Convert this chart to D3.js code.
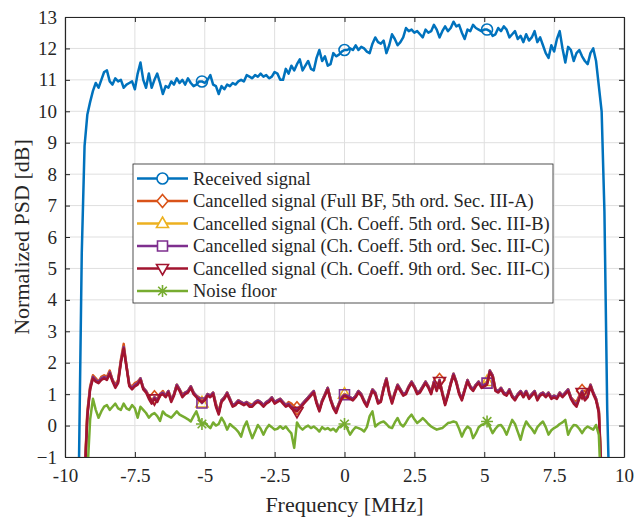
<!DOCTYPE html>
<html><head><meta charset="utf-8">
<script src="https://cdn.jsdelivr.net/npm/d3@7"></script>
<style>
body{margin:0;background:#fff}
svg{display:block}
text{font-family:"Liberation Serif","Times New Roman",serif;fill:#262626}
</style>
</head><body>
<svg id="chart" width="636" height="517"></svg>
<script>
// Sample grid: -9.5 .. 9.5 MHz in 0.1 MHz steps (191 samples)
const freq = d3.range(191).map(i => Math.round((-9.5 + i * 0.1) * 10) / 10);

const received = [
-1.2,5.5,8.9,9.9,10.3,10.65,10.9,10.75,11.0,11.25,
11.3,10.95,10.85,11.05,10.95,11.0,10.75,10.85,10.9,10.95,
10.7,11.2,11.55,11.0,10.75,11.2,10.75,11.0,11.2,10.9,
10.55,10.8,10.75,10.95,10.85,11.05,10.9,11.0,10.85,11.05,
10.9,10.8,10.85,10.95,10.95,10.9,11.0,11.15,10.85,10.8,
10.55,10.8,10.7,10.85,10.8,10.9,10.85,10.95,11.0,10.95,
11.15,11.1,11.05,11.15,11.1,11.2,11.1,11.15,11.05,11.1,
11.25,11.2,11.0,11.0,11.35,11.2,11.45,11.3,11.5,11.65,
11.3,11.45,11.6,11.35,11.3,11.7,11.95,11.6,11.75,11.45,
11.5,11.85,11.75,11.8,11.9,11.95,11.95,12.0,11.95,12.1,
11.95,12.05,12.0,11.9,11.85,12.15,12.35,12.2,12.15,12.25,
11.85,12.1,12.45,12.3,12.1,12.2,12.35,12.65,12.55,12.6,
12.5,12.55,12.45,12.35,12.6,12.5,12.55,12.75,12.6,12.35,
12.55,12.7,12.55,12.65,12.85,12.7,12.75,12.5,12.3,12.6,
12.55,12.75,12.65,12.6,12.55,12.6,12.6,12.55,12.4,12.45,
12.65,12.55,12.7,12.6,12.35,12.45,12.55,12.3,12.4,12.2,
12.45,12.25,12.35,12.55,12.2,12.35,12.1,11.85,11.7,12.1,
11.9,12.3,12.55,12.0,11.55,12.05,11.95,11.6,11.85,11.95,
11.75,11.6,11.5,11.85,12.0,11.6,10.8,10.0,6.8,0.5,
-3];

const cancelFullBF = [
-3,-3,-1.6,0.45,1.25,1.6,1.5,1.4,1.55,1.6,
1.55,1.75,1.45,1.3,1.45,2.1,2.6,1.9,1.3,1.25,
1.35,1.4,1.5,1.2,1.1,0.95,0.8,0.9,0.85,1.0,
1.1,0.95,1.1,0.85,1.0,1.3,1.15,1.0,1.05,1.1,
1.25,1.05,0.95,0.9,0.8,0.85,1.0,0.95,1.05,0.7,
0.45,0.8,0.9,1.05,0.85,0.65,0.7,0.8,0.75,0.7,
0.75,0.7,0.65,0.75,0.8,0.75,0.65,0.75,0.8,0.9,
0.75,0.8,0.85,0.75,0.65,0.75,0.7,0.6,0.55,0.6,
0.7,0.8,0.9,1.0,1.1,0.75,0.5,0.8,1.0,1.2,
0.85,0.6,0.5,0.7,0.9,1.0,0.95,0.9,0.85,0.95,
1.1,1.0,0.8,0.65,0.9,1.15,1.05,0.75,0.8,1.2,
1.5,1.05,0.75,1.05,1.3,1.15,1.0,1.05,1.25,1.4,
1.25,1.05,1.1,1.25,1.4,1.25,1.05,1.4,1.15,1.45,
1.05,0.7,1.0,1.35,1.65,1.4,1.05,0.85,1.15,1.45,
1.25,1.15,1.3,1.4,1.25,1.3,1.35,1.75,1.6,1.15,
1.1,1.2,1.05,1.0,1.15,0.95,0.85,1.0,1.1,0.95,
1.1,0.9,1.0,1.1,0.85,1.0,1.05,0.95,1.05,0.9,
0.95,0.9,1.05,0.95,1.05,1.15,0.9,0.8,0.75,0.95,
1.1,1.1,1.0,1.3,1.05,0.85,0.5,-1.6,-3,-3,
-3];

const cancelCoeff5B = [
-3,-3,-1.7,0.4,1.2,1.55,1.45,1.4,1.5,1.55,
1.5,1.7,1.45,1.25,1.4,2.05,2.5,1.9,1.3,1.2,
1.3,1.35,1.5,1.2,1.1,0.9,0.75,0.9,0.8,1.0,
1.05,0.95,1.1,0.8,1.0,1.3,1.15,0.95,1.05,1.1,
1.25,1.05,0.95,0.85,0.72,0.85,1.0,0.95,1.05,0.65,
0.4,0.8,0.9,1.05,0.85,0.65,0.7,0.8,0.75,0.7,
0.75,0.65,0.65,0.75,0.8,0.75,0.65,0.75,0.8,0.9,
0.75,0.8,0.85,0.75,0.65,0.7,0.6,0.55,0.52,0.6,
0.7,0.8,0.9,1.0,1.1,0.75,0.5,0.8,1.0,1.2,
0.85,0.6,0.45,0.7,0.9,1.0,0.95,0.9,0.85,0.95,
1.1,1.0,0.8,0.65,0.9,1.15,1.05,0.75,0.8,1.2,
1.5,1.05,0.75,1.05,1.3,1.15,1.0,1.05,1.25,1.4,
1.25,1.05,1.1,1.25,1.4,1.25,1.05,1.4,1.15,1.45,
1.05,0.7,1.0,1.35,1.65,1.4,1.05,0.85,1.15,1.45,
1.25,1.15,1.3,1.4,1.25,1.35,1.4,1.75,1.6,1.15,
1.1,1.2,1.05,1.0,1.15,0.95,0.85,1.0,1.1,0.95,
1.1,0.9,1.0,1.1,0.85,1.0,1.05,0.95,1.05,0.9,
0.95,0.9,1.05,0.95,1.05,1.15,0.9,0.75,0.65,0.9,
1.1,0.9,0.95,1.3,1.05,0.85,0.45,-1.7,-3,-3,
-3];

const cancelCoeff5C = [
-3,-3,-1.75,0.35,1.2,1.55,1.45,1.4,1.5,1.55,
1.5,1.7,1.45,1.25,1.4,2.05,2.5,1.9,1.3,1.2,
1.3,1.35,1.5,1.2,1.1,0.9,0.75,0.9,0.8,1.0,
1.05,0.95,1.1,0.8,1.0,1.3,1.15,0.95,1.05,1.1,
1.25,1.05,0.95,0.85,0.72,0.85,1.0,0.95,1.05,0.65,
0.4,0.8,0.9,1.05,0.85,0.65,0.7,0.8,0.75,0.7,
0.75,0.65,0.65,0.75,0.8,0.75,0.65,0.75,0.8,0.9,
0.75,0.8,0.85,0.75,0.65,0.7,0.6,0.55,0.5,0.6,
0.7,0.8,0.9,1.0,1.1,0.75,0.5,0.8,1.0,1.2,
0.85,0.6,0.45,0.7,0.9,0.98,0.95,0.9,0.85,0.95,
1.1,1.0,0.8,0.65,0.9,1.15,1.05,0.75,0.8,1.2,
1.5,1.05,0.75,1.05,1.3,1.15,1.0,1.05,1.25,1.4,
1.25,1.05,1.1,1.25,1.4,1.25,1.05,1.4,1.15,1.45,
1.05,0.7,1.0,1.35,1.65,1.4,1.05,0.85,1.15,1.45,
1.25,1.15,1.3,1.4,1.25,1.3,1.35,1.75,1.6,1.15,
1.1,1.2,1.05,1.0,1.15,0.95,0.85,1.0,1.1,0.95,
1.1,0.9,1.0,1.1,0.85,1.0,1.05,0.95,1.05,0.9,
0.95,0.9,1.05,0.95,1.05,1.15,0.9,0.75,0.65,0.9,
1.1,0.85,0.95,1.3,1.05,0.85,0.45,-1.75,-3,-3,
-3];

const cancelCoeff9C = [
-3,-3,-1.8,0.3,1.15,1.5,1.4,1.35,1.45,1.5,
1.45,1.65,1.4,1.2,1.35,2.0,2.45,1.85,1.25,1.15,
1.25,1.3,1.45,1.15,1.05,0.85,0.7,0.85,0.75,0.95,
1.0,0.9,1.05,0.75,0.95,1.25,1.1,0.9,1.0,1.05,
1.2,1.0,0.9,0.8,0.75,0.8,0.95,0.9,1.0,0.6,
0.35,0.75,0.85,1.0,0.8,0.6,0.65,0.75,0.7,0.65,
0.7,0.6,0.6,0.7,0.75,0.7,0.6,0.7,0.75,0.85,
0.7,0.75,0.8,0.7,0.6,0.65,0.55,0.5,0.45,0.55,
0.65,0.75,0.85,0.95,1.05,0.7,0.45,0.75,0.95,1.15,
0.8,0.55,0.4,0.65,0.85,0.95,0.9,0.85,0.8,0.9,
1.05,0.95,0.75,0.6,0.85,1.1,1.0,0.7,0.75,1.15,
1.45,1.0,0.7,1.0,1.25,1.1,0.95,1.0,1.2,1.35,
1.2,1.0,1.05,1.2,1.35,1.2,1.0,1.35,1.1,1.4,
1.0,0.65,0.95,1.3,1.6,1.35,1.0,0.8,1.1,1.4,
1.2,1.1,1.25,1.35,1.2,1.25,1.3,1.7,1.55,1.1,
1.05,1.15,1.0,0.95,1.1,0.9,0.8,0.95,1.05,0.9,
1.05,0.85,0.95,1.05,0.8,0.95,1.0,0.9,1.0,0.85,
0.9,0.85,1.0,0.9,1.0,1.1,0.85,0.7,0.6,0.85,
1.05,0.8,0.9,1.25,1.0,0.8,0.4,-1.8,-3,-3,
-3];

const noiseFloor = [
-3,-3,-3,-1.5,0.2,0.85,0.5,0.25,0.45,0.6,
0.65,0.5,0.6,0.7,0.55,0.5,0.7,0.55,0.5,0.65,
0.55,0.25,0.6,0.5,0.4,0.25,0.35,0.4,0.3,0.15,
0.45,0.35,0.3,0.25,0.35,0.45,0.35,0.3,0.25,0.2,
0.13,0.3,0.45,0.2,0.05,0.1,0.0,-0.08,0.1,0.0,
0.05,0.25,0.1,-0.13,0.05,-0.03,-0.1,-0.2,-0.35,-0.05,
0.13,-0.15,-0.4,-0.2,0.02,-0.1,-0.29,-0.1,0.02,-0.05,
-0.13,-0.1,-0.02,-0.1,-0.03,-0.15,-0.25,-0.71,0.1,-0.05,
-0.13,-0.05,0.0,-0.08,-0.03,-0.1,-0.19,-0.05,-0.12,-0.08,
-0.15,-0.1,-0.19,-0.05,0.0,0.05,-0.1,-0.29,-0.15,-0.05,
-0.08,-0.12,-0.19,-0.05,0.3,0.45,-0.03,0.05,0.1,0.13,
0.05,-0.05,-0.08,0.1,0.24,0.05,-0.03,0.1,0.25,0.35,
0.2,0.08,0.15,0.24,0.15,0.05,-0.03,-0.08,-0.13,-0.1,
-0.08,0.0,0.08,0.1,0.13,0.1,-0.1,-0.35,-0.15,-0.03,
-0.1,-0.4,-0.25,-0.05,0.02,0.05,0.13,-0.05,-0.24,-0.1,
0.0,0.02,-0.1,-0.29,-0.05,0.18,0.05,-0.2,-0.45,-0.1,
0.13,0.0,-0.1,-0.24,-0.05,0.05,0.13,-0.05,-0.29,-0.15,
-0.08,-0.03,0.05,0.1,0.18,-0.29,-0.1,0.02,0.0,-0.1,
-0.24,-0.1,-0.03,-0.08,-0.13,0.02,-0.3,-2.5,-3,-3,
-3];

const seriesNames = [
  "Received signal",
  "Cancelled signal (Full BF, 5th ord. Sec. III-A)",
  "Cancelled signal (Ch. Coeff. 5th ord. Sec. III-B)",
  "Cancelled signal (Ch. Coeff. 5th ord. Sec. III-C)",
  "Cancelled signal (Ch. Coeff. 9th ord. Sec. III-C)",
  "Noise floor"
];
const seriesColors = ["#0072BD","#D95319","#EDB120","#7E2F8E","#A2142F","#77AC30"];
const seriesMarkers = ["circle","diamond","triangleUp","square","triangleDown","asterisk"];
const markerFreqs = [
  [-5.1, 0, 5.1],
  [-6.8, -1.7, 3.4, 8.5],
  [-5.1, 0, 5.1],
  [-5.1, 0, 5.1],
  [-6.8, -1.7, 3.4, 8.5],
  [-5.1, 0, 5.1]
];
const seriesValues = [received, cancelFullBF, cancelCoeff5B, cancelCoeff5C, cancelCoeff9C, noiseFloor];

const xTickValues = [-10,-7.5,-5,-2.5,0,2.5,5,7.5,10];
const xTickLabels = ["-10","-7.5","-5","-2.5","0","2.5","5","7.5","10"];
const yTickValues = [-1,0,1,2,3,4,5,6,7,8,9,10,11,12,13];
const xLabel = "Frequency [MHz]";
const yLabel = "Normalized PSD [dB]";

// ---- layout ----
const W = 636, H = 517;
const m = {left: 65, right: 12, top: 17, bottom: 60};
const iw = W - m.left - m.right, ih = H - m.top - m.bottom;
const x = d3.scaleLinear().domain([-10, 10]).range([0, iw]);
const y = d3.scaleLinear().domain([-1, 13]).range([ih, 0]);
const axisColor = "#262626";

const svg = d3.select("#chart");
const g = svg.append("g").attr("transform", `translate(${m.left},${m.top})`);

svg.append("defs").append("clipPath").attr("id", "clip")
  .append("rect").attr("width", iw).attr("height", ih);

// grid
g.append("g").selectAll("line").data(xTickValues).join("line")
  .attr("x1", d => x(d)).attr("x2", d => x(d)).attr("y1", 0).attr("y2", ih)
  .attr("stroke", "#dfdfdf").attr("stroke-width", 1);
g.append("g").selectAll("line").data(yTickValues).join("line")
  .attr("y1", d => y(d)).attr("y2", d => y(d)).attr("x1", 0).attr("x2", iw)
  .attr("stroke", "#dfdfdf").attr("stroke-width", 1);

// lines
const line = d3.line().x(d => x(d[0])).y(d => y(d[1]));
const plot = g.append("g").attr("clip-path", "url(#clip)");

function markerPath(type) {
  switch (type) {
    case "circle": return d3.path ? "M5.5,0A5.5,5.5,0,1,1,-5.5,0A5.5,5.5,0,1,1,5.5,0Z" : "";
    case "diamond": return "M0,-6.5L5.5,0L0,6.5L-5.5,0Z";
    case "triangleUp": return "M0,-6.5L6,4L-6,4Z";
    case "square": return "M-5,-5L5,-5L5,5L-5,5Z";
    case "triangleDown": return "M0,6.5L6,-4L-6,-4Z";
    case "asterisk": return "M-6,0L6,0M0,-6L0,6M-4.3,-4.3L4.3,4.3M-4.3,4.3L4.3,-4.3";
  }
}

seriesValues.forEach((vals, k) => {
  const pts = freq.map((f, i) => [f, vals[i]]);
  plot.append("path").datum(pts)
    .attr("d", line).attr("fill", "none")
    .attr("stroke", seriesColors[k]).attr("stroke-width", 2.5)
    .attr("stroke-linejoin", "round");
  markerFreqs[k].forEach(f => {
    const i = freq.findIndex(v => Math.abs(v - f) < 1e-6);
    plot.append("path").attr("d", markerPath(seriesMarkers[k]))
      .attr("transform", `translate(${x(f)},${y(vals[i])})`)
      .attr("fill", "none").attr("stroke", seriesColors[k]).attr("stroke-width", 1.6);
  });
});

// axes (inward ticks, box)
const xb = g.append("g").attr("transform", `translate(0,${ih})`)
  .call(d3.axisBottom(x).tickValues(xTickValues).tickFormat((d, i) => xTickLabels[i]).tickSizeInner(-5).tickSizeOuter(0).tickPadding(12));
const xt = g.append("g")
  .call(d3.axisTop(x).tickValues(xTickValues).tickFormat("").tickSizeInner(-5).tickSizeOuter(0));
const yl = g.append("g")
  .call(d3.axisLeft(y).tickValues(yTickValues).tickFormat(d3.format("d")).tickSizeInner(-5).tickSizeOuter(0).tickPadding(8));
const yr = g.append("g").attr("transform", `translate(${iw},0)`)
  .call(d3.axisRight(y).tickValues(yTickValues).tickFormat("").tickSizeInner(-5).tickSizeOuter(0));
[xb, xt, yl, yr].forEach(a => {
  a.select(".domain").attr("stroke", axisColor).attr("stroke-width", 1.2);
  a.selectAll(".tick line").attr("stroke", axisColor).attr("stroke-width", 1);
  a.selectAll("text").attr("font-size", 19).attr("fill", axisColor)
    .attr("font-family", '"Liberation Serif","Times New Roman",serif');
});

// axis labels
svg.append("text").attr("x", m.left + iw / 2).attr("y", 512)
  .attr("text-anchor", "middle").attr("font-size", 22).text(xLabel);
svg.append("text").attr("transform", `translate(29,${m.top + ih / 2}) rotate(-90)`)
  .attr("text-anchor", "middle").attr("font-size", 22).text(yLabel);

// legend
const lg = svg.append("g");
lg.append("rect").attr("x", 133).attr("y", 164).attr("width", 420).attr("height", 139)
  .attr("fill", "#fff").attr("stroke", axisColor).attr("stroke-width", 0.8);
seriesNames.forEach((name, k) => {
  const yy = 178.5 + k * 22.5;
  lg.append("line").attr("x1", 137).attr("x2", 188).attr("y1", yy).attr("y2", yy)
    .attr("stroke", seriesColors[k]).attr("stroke-width", 2.5);
  lg.append("path").attr("d", markerPath(seriesMarkers[k]))
    .attr("transform", `translate(162.5,${yy})`)
    .attr("fill", "#fff").attr("stroke", seriesColors[k]).attr("stroke-width", 1.6);
  lg.append("text").attr("x", 193).attr("y", yy).attr("dy", "0.33em")
    .attr("font-size", 18.5).attr("fill", "#000").text(name);
});
</script>
</body></html>
